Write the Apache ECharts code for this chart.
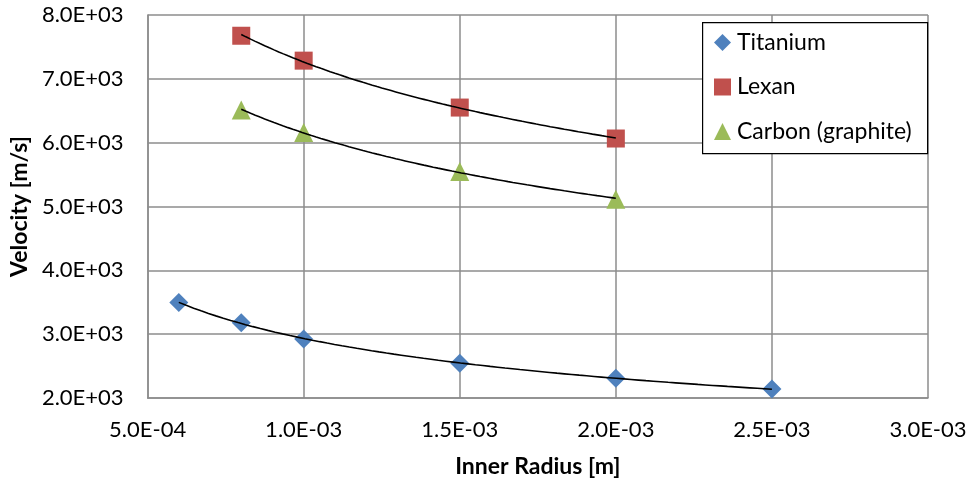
<!DOCTYPE html>
<html>
<head>
<meta charset="utf-8">
<script src="https://cdn.jsdelivr.net/npm/echarts@6/dist/echarts.min.js"></script>
<style>
html,body{margin:0;padding:0;background:#fff;}
#chart{width:972px;height:486px;}
</style>
</head>
<body>
<div id="chart"></div>
<script>
// ---- data ----
const xTitanium = [6e-4, 8e-4, 1e-3, 1.5e-3, 2e-3, 2.5e-3];
const yTitanium = [3495, 3180, 2925, 2545, 2310, 2140];
const xLexan = [8e-4, 1e-3, 1.5e-3, 2e-3];
const yLexan = [7675, 7285, 6550, 6065];
const xCarbon = [8e-4, 1e-3, 1.5e-3, 2e-3];
const yCarbon = [6510, 6160, 5550, 5115];
const seriesNames = ['Titanium', 'Lexan', 'Carbon (graphite)'];
const xAxisTitle = 'Inner Radius [m]';
const yAxisTitle = 'Velocity [m/s]';

const FONT = 'Lato';
const COLORS = ['#4F81BD', '#C0504D', '#9BBB59'];

function pairs(xs, ys){ return xs.map((x,i)=>[x, ys[i]]); }

// power-law least-squares trendline (as in the spreadsheet) fitted to the data
function powerTrend(xs, ys){
  const lx = xs.map(Math.log), ly = ys.map(Math.log);
  const n = xs.length;
  const mx = lx.reduce((a,b)=>a+b,0)/n, my = ly.reduce((a,b)=>a+b,0)/n;
  let sxy=0, sxx=0;
  for(let i=0;i<n;i++){ sxy+=(lx[i]-mx)*(ly[i]-my); sxx+=(lx[i]-mx)*(lx[i]-mx); }
  const b = sxy/sxx, a = Math.exp(my - b*mx);
  const x0 = Math.min(...xs), x1 = Math.max(...xs);
  const out = [];
  const N = 80;
  for(let k=0;k<=N;k++){ const x = x0 + (x1-x0)*k/N; out.push([x, a*Math.pow(x,b)]); }
  return out;
}

function sci(v){
  const s = Number(v).toExponential(1); // e.g. 5.0e-4
  const m = s.match(/^(-?[\d.]+)e([+-])(\d+)$/);
  if(!m) return s;
  return m[1] + 'E' + m[2] + (m[3].length<2 ? '0'+m[3] : m[3]);
}

const chart = echarts.init(document.getElementById('chart'), null, {renderer:'canvas'});

const GRID_COLOR = '#8C8C8C';

const option = {
  animation:false,
  backgroundColor:'#ffffff',
  textStyle:{fontFamily:FONT},
  grid:{left:147, right:44, top:15, bottom:88, containLabel:false},
  xAxis:{
    type:'value', min:5e-4, max:3e-3, interval:5e-4,
    name:xAxisTitle, nameLocation:'middle', nameGap:57,
    nameTextStyle:{fontFamily:FONT, fontSize:23, fontWeight:'bold', color:'#000'},
    axisLine:{show:true, lineStyle:{color:GRID_COLOR, width:1.5}},
    axisTick:{show:false},
    splitLine:{show:true, lineStyle:{color:GRID_COLOR, width:1.5}},
    axisLabel:{formatter:sci, margin:21, fontFamily:FONT, fontSize:22, color:'#000'}
  },
  yAxis:{
    type:'value', min:2000, max:8000, interval:1000,
    name:yAxisTitle, nameLocation:'middle', nameGap:110,
    nameTextStyle:{fontFamily:FONT, fontSize:23, fontWeight:'bold', color:'#000'},
    axisLine:{show:true, lineStyle:{color:GRID_COLOR, width:1.5}},
    axisTick:{show:false},
    splitLine:{show:true, lineStyle:{color:GRID_COLOR, width:1.5}},
    axisLabel:{formatter:sci, margin:24, fontFamily:FONT, fontSize:22, color:'#000'}
  },
  graphic:[{
    type:'rect', z:50, left:702, top:22,
    shape:{width:225, height:131},
    style:{fill:'#ffffff', stroke:'#000000', lineWidth:1.2}
  }],
  legend:{
    z:60, zlevel:0,
    orient:'vertical', left:714, top:31,
    padding:0, itemGap:21.5, itemWidth:17, itemHeight:17,
    data:[
      {name:seriesNames[0], icon:'diamond'},
      {name:seriesNames[1], icon:'rect'},
      {name:seriesNames[2], icon:'triangle'}
    ],
    textStyle:{fontFamily:FONT, fontSize:23, color:'#000', padding:[0,0,0,1]}
  },
  series:[
    {name:'TiTrend', type:'line', data:powerTrend(xTitanium,yTitanium), showSymbol:false, symbol:'none',
     lineStyle:{color:'#000', width:1.6}, z:3, silent:true},
    {name:'LexTrend', type:'line', data:powerTrend(xLexan,yLexan), showSymbol:false, symbol:'none',
     lineStyle:{color:'#000', width:1.6}, z:3, silent:true},
    {name:'CarTrend', type:'line', data:powerTrend(xCarbon,yCarbon), showSymbol:false, symbol:'none',
     lineStyle:{color:'#000', width:1.6}, z:3, silent:true},
    {name:seriesNames[0], type:'scatter', data:pairs(xTitanium,yTitanium), symbol:'diamond', symbolSize:19,
     itemStyle:{color:COLORS[0], opacity:1}, z:2},
    {name:seriesNames[1], type:'scatter', data:pairs(xLexan,yLexan), symbol:'rect', symbolSize:18,
     itemStyle:{color:COLORS[1], opacity:1}, z:2},
    {name:seriesNames[2], type:'scatter', data:pairs(xCarbon,yCarbon), symbol:'triangle', symbolSize:19,
     itemStyle:{color:COLORS[2], opacity:1}, z:2}
  ]
};
chart.setOption(option);
</script>
</body>
</html>
